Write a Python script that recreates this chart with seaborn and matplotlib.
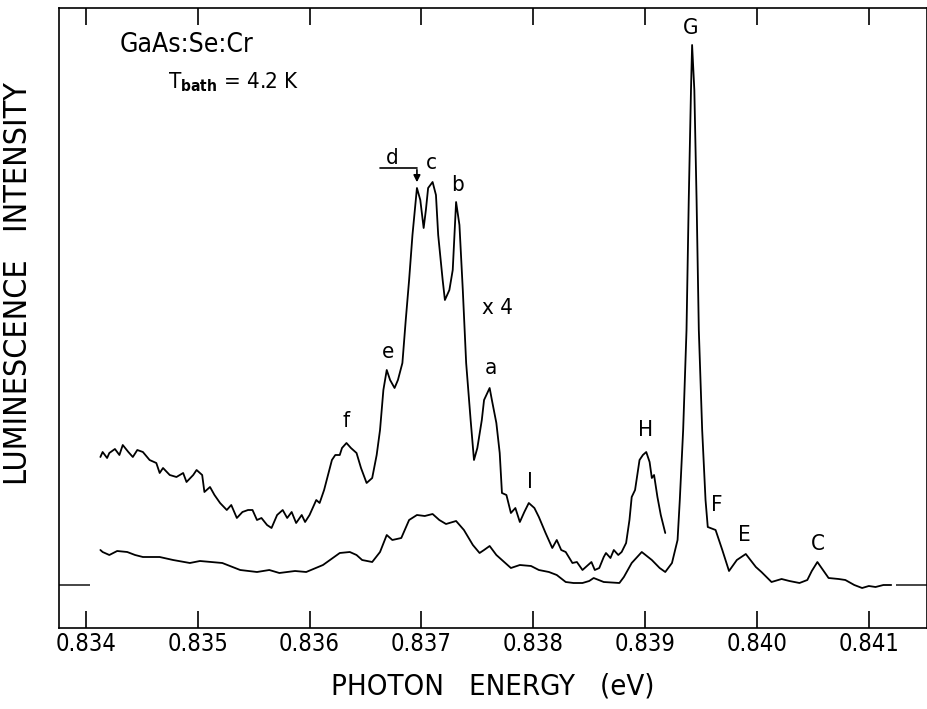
import numpy as np
import pandas as pd
import matplotlib
matplotlib.use("Agg")
import matplotlib.pyplot as plt
import seaborn as sns

# ---- data (photon energy in eV, intensity in arbitrary units, baseline = 0) ----
lower_energy = [0.83413, 0.83415, 0.83421, 0.83428, 0.83437, 0.83444, 0.83451, 0.83466, 0.83478, 0.83493,
                0.83502, 0.83522, 0.83538, 0.83553, 0.83564, 0.83573, 0.83587, 0.83597, 0.83612, 0.83627,
                0.83636, 0.83642, 0.83647, 0.83656, 0.83663, 0.83669, 0.83674, 0.83682, 0.83689, 0.83696,
                0.83703, 0.83710, 0.83716, 0.83722, 0.83731, 0.83738, 0.83746, 0.83752, 0.83756, 0.83761,
                0.83767, 0.83774, 0.83780, 0.83788, 0.83798, 0.83805, 0.83814, 0.83821, 0.83829, 0.83836,
                0.83844, 0.83850, 0.83854, 0.83863, 0.83877, 0.83881, 0.83888, 0.83897, 0.83906, 0.83913,
                0.83918, 0.83924, 0.83929, 0.83931, 0.83934, 0.83937, 0.83939, 0.83941, 0.83942, 0.83944,
                0.83946, 0.83948, 0.83951, 0.83954, 0.83956, 0.83963, 0.83969, 0.83975, 0.83982, 0.83990,
                0.83999, 0.84004, 0.84013, 0.84022, 0.84029, 0.84038, 0.84045, 0.84049, 0.84054, 0.84059,
                0.84064, 0.84073, 0.84079, 0.84087, 0.84094, 0.84100, 0.84106, 0.84113, 0.84120]
lower_intensity = [35, 33, 30, 34, 33, 30, 28, 28, 25, 22,
                   24, 22, 15, 13, 15, 12, 14, 13, 20, 32,
                   33, 30, 25, 23, 33, 50, 45, 47, 65, 70,
                   69, 71, 65, 61, 64, 55, 40, 32, 35, 39,
                   30, 23, 17, 20, 19, 15, 13, 10, 3, 2,
                   2, 4, 7, 3, 2, 8, 22, 33, 25, 17,
                   13, 22, 45, 85, 155, 255, 385, 495, 540, 495,
                   385, 255, 155, 85, 58, 55, 35, 14, 25, 31,
                   18, 13, 3, 6, 4, 2, 5, 14, 23, 15,
                   7, 6, 5, 0, -3, -1, -2, 0, 0]

upper_energy = [0.83413, 0.83415, 0.83419, 0.83421, 0.83426, 0.83430, 0.83433, 0.83438, 0.83442, 0.83446,
                0.83451, 0.83457, 0.83463, 0.83466, 0.83469, 0.83475, 0.83481, 0.83487, 0.83490, 0.83496,
                0.83499, 0.83504, 0.83506, 0.83511, 0.83515, 0.83520, 0.83526, 0.83530, 0.83535, 0.83540,
                0.83545, 0.83549, 0.83553, 0.83557, 0.83562, 0.83566, 0.83571, 0.83576, 0.83580, 0.83584,
                0.83588, 0.83593, 0.83596, 0.83600, 0.83604, 0.83606, 0.83609, 0.83613, 0.83620, 0.83623,
                0.83627, 0.83629, 0.83633, 0.83637, 0.83642, 0.83646, 0.83651, 0.83656, 0.83660, 0.83663,
                0.83666, 0.83669, 0.83672, 0.83676, 0.83679, 0.83683, 0.83686, 0.83689, 0.83692, 0.83695,
                0.83696, 0.83699, 0.83702, 0.83704, 0.83706, 0.83710, 0.83713, 0.83715, 0.83719, 0.83721,
                0.83725, 0.83728, 0.83731, 0.83734, 0.83737, 0.83740, 0.83744, 0.83747, 0.83750, 0.83754,
                0.83756, 0.83761, 0.83763, 0.83767, 0.83770, 0.83772, 0.83776, 0.83780, 0.83784, 0.83788,
                0.83792, 0.83796, 0.83801, 0.83805, 0.83811, 0.83817, 0.83821, 0.83825, 0.83829, 0.83835,
                0.83839, 0.83844, 0.83848, 0.83852, 0.83855, 0.83859, 0.83863, 0.83865, 0.83869, 0.83872,
                0.83876, 0.83879, 0.83883, 0.83886, 0.83888, 0.83891, 0.83895, 0.83898, 0.83901, 0.83904,
                0.83906, 0.83908, 0.83911, 0.83914, 0.83918]
upper_intensity = [128, 133, 127, 132, 136, 130, 140, 133, 128, 135,
                   133, 125, 122, 112, 117, 110, 108, 112, 103, 110,
                   115, 110, 93, 98, 90, 82, 75, 80, 67, 73,
                   75, 75, 65, 67, 60, 57, 70, 75, 67, 73,
                   62, 70, 63, 70, 80, 85, 82, 95, 125, 130,
                   130, 137, 142, 137, 132, 117, 102, 107, 130, 155,
                   195, 215, 205, 197, 205, 222, 265, 305, 350, 385,
                   397, 385, 357, 375, 397, 403, 390, 350, 305, 285,
                   295, 315, 383, 360, 295, 222, 165, 125, 137, 165,
                   185, 197, 185, 162, 132, 92, 90, 72, 77, 63,
                   73, 82, 77, 68, 52, 37, 45, 35, 33, 22,
                   23, 15, 19, 23, 15, 17, 28, 32, 27, 35,
                   30, 33, 42, 65, 88, 95, 125, 130, 133, 123,
                   107, 110, 88, 70, 52]

peak_labels = ["f", "e", "d", "c", "b", "a", "I", "H", "G", "F", "E", "C"]
peak_label_energy = [0.83633, 0.83670, 0.83674, 0.83709, 0.83732, 0.83762, 0.83797, 0.83900, 0.83941, 0.83964, 0.83989, 0.84054]
peak_label_intensity = [164, 233, 427, 422, 400, 217, 103, 155, 557, 80, 50, 41]

x_ticks = [0.834, 0.835, 0.836, 0.837, 0.838, 0.839, 0.840, 0.841]
x_tick_labels = ["0.834", "0.835", "0.836", "0.837", "0.838", "0.839", "0.840", "0.841"]

# ---- plot ----
sns.set_theme(style="white")
plt.rcParams['font.family'] = ['DejaVu Sans']
plt.rcParams['font.stretch'] = 'condensed'

df_lower = pd.DataFrame({"energy": lower_energy, "intensity": lower_intensity})
df_upper = pd.DataFrame({"energy": upper_energy, "intensity": upper_intensity})

fig = plt.figure(figsize=(9.28, 7.09), dpi=100)
ax = fig.add_axes([59 / 928, 1 - 628 / 709, (927 - 59) / 928, (628 - 8) / 709])

sns.lineplot(data=df_lower, x="energy", y="intensity", ax=ax, color="black", lw=1.3, sort=False, estimator=None)
sns.lineplot(data=df_upper, x="energy", y="intensity", ax=ax, color="black", lw=1.3, sort=False, estimator=None)

ax.set_xlim(0.83376, 0.84152)
ax.set_ylim(-43, 577)

ax.set_xticks(x_ticks)
ax.set_xticklabels(x_tick_labels, fontsize=17, fontstretch='condensed')
ax.tick_params(axis="x", direction="in", length=12, width=1.2, top=True, bottom=True, pad=3, colors="black")
ax.set_yticks([0])
ax.set_yticklabels([])
ax.tick_params(axis="y", direction="in", length=22, width=1.2, left=True, right=True)

for s in ax.spines.values():
    s.set_color("black")
    s.set_linewidth(1.2)

ax.set_xlabel("PHOTON   ENERGY   (eV)", fontsize=21, labelpad=12, color="black", fontstretch='condensed')
ax.set_ylabel("LUMINESCENCE   INTENSITY", fontsize=23, color="black", fontstretch='condensed')
ax.yaxis.set_label_coords(-0.029, 0.556)

for lab, xe, yi in zip(peak_labels, peak_label_energy, peak_label_intensity):
    ax.text(xe, yi, lab, fontsize=16, ha="center", va="center", color="black", fontstretch='condensed')

ax.text(0.83768, 277, "x 4", fontsize=16, ha="center", va="center", color="black", fontstretch='condensed')
ax.text(0.83430, 540, "GaAs:Se:Cr", fontsize=19, ha="left", va="center", color="black", fontstretch='condensed')
ax.text(0.83473, 503, r"T$_{\mathbf{bath}}$ = 4.2 K", fontsize=16, ha="left", va="center", color="black", fontstretch='condensed')

# d arrow
ax.plot([0.83663, 0.83696], [417, 417], color="black", lw=1.2)
ax.annotate("", xy=(0.83696, 400), xytext=(0.83696, 418),
            arrowprops=dict(arrowstyle="-|>", color="black", lw=1.2, mutation_scale=10))

fig.savefig("out.png", dpi=100)
